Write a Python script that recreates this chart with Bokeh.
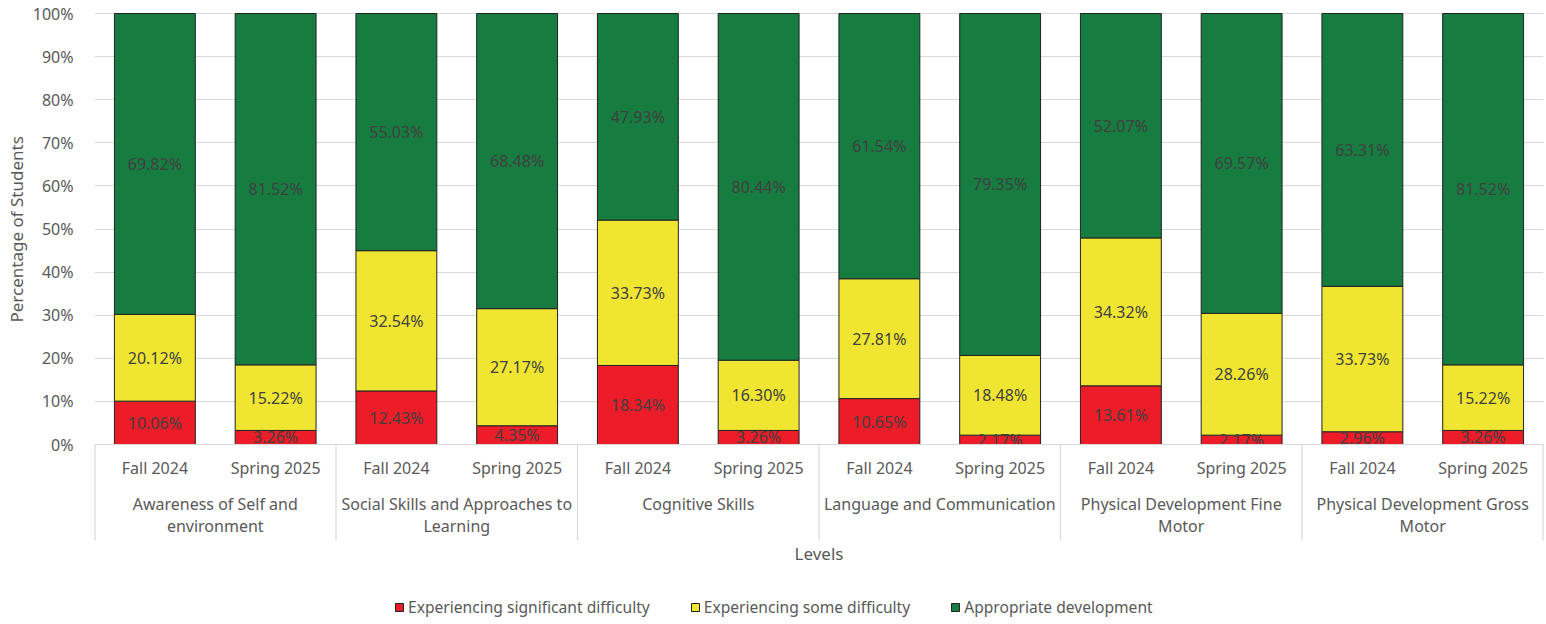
import numpy as np
from bokeh.plotting import figure
from bokeh.models import (ColumnDataSource, Range1d, FixedTicker, NumeralTickFormatter,
                          Legend, LegendItem, BoxAnnotation, Title)
from bokeh.embed import file_html
from bokeh.resources import INLINE
from bokeh.core.properties import value

# ---------------- data ----------------
group_line1 = ["Awareness of Self and", "Social Skills and Approaches to", "Cognitive Skills",
               "Language and Communication", "Physical Development Fine", "Physical Development Gross"]
group_line2 = ["environment", "Learning", "", "", "Motor", "Motor"]
periods = ["Fall 2024", "Spring 2025"]

significant = [10.06, 3.26, 12.43, 4.35, 18.34, 3.26, 10.65, 2.17, 13.61, 2.17, 2.96, 3.26]
some = [20.12, 15.22, 32.54, 27.17, 33.73, 16.30, 27.81, 18.48, 34.32, 28.26, 33.73, 15.22]
appropriate = [69.82, 81.52, 55.03, 68.48, 47.93, 80.44, 61.54, 79.35, 52.07, 69.57, 63.31, 81.52]

series_names = ["Experiencing significant difficulty", "Experiencing some difficulty",
                "Appropriate development"]
colors = ["#EC1C28", "#F0E632", "#167C40"]

y_ticks = [i / 10 for i in range(11)]

FONT = "Noto Sans"
AXIS_TXT = "#595959"
LBL_TXT = "#404040"
GRID = "#d9d9d9"

# ---------------- derived ----------------
n_groups = len(group_line1)
n_bars = n_groups * len(periods)
x = np.arange(n_bars) + 0.5
s1 = np.array(significant) / 100
s2 = np.array(some) / 100
s3 = np.array(appropriate) / 100

src = ColumnDataSource(dict(x=x, sig=s1, some=s2, app=s3))

PX = 431.0                      # pixels per 100 %
H = 620
TOP = 12
Y_TOP = 1.0 + 1 / PX
Y_BOTTOM = -(H - 444) / PX
LINE_BOTTOM = -(540 - 444) / PX

p = figure(width=1544, height=H, output_backend="svg", toolbar_location=None,
           x_range=Range1d(0, n_bars), y_range=Range1d(Y_BOTTOM, Y_TOP),
           x_axis_location=None, min_border_left=93, min_border_right=1,
           min_border_top=TOP, min_border_bottom=0)
p.outline_line_color = None
p.background_fill_color = "white"

# y axis
p.yaxis.ticker = FixedTicker(ticks=y_ticks)
p.yaxis.formatter = NumeralTickFormatter(format="0%")
p.yaxis.axis_line_color = None
p.yaxis.major_tick_line_color = None
p.yaxis.minor_tick_line_color = None
p.yaxis.major_label_standoff = 15
p.yaxis.major_label_text_font = FONT
p.yaxis.major_label_text_font_size = "16px"
p.yaxis.major_label_text_color = AXIS_TXT
p.ygrid.ticker = FixedTicker(ticks=y_ticks)
p.ygrid.grid_line_color = GRID
p.xgrid.visible = False

# y axis title
p.add_layout(Title(text="Percentage of Students", align="left", offset=(H - 322),
                   text_font=FONT, text_font_size="17px", text_font_style="normal",
                   text_color=AXIS_TXT, standoff=4), "left")

# stacked bars
renderers = p.vbar_stack(["sig", "some", "app"], x="x", width=0.67, source=src,
                         fill_color=colors, line_color="#222222", line_width=1)

# data labels
for col, lo, hi in [("sig", np.zeros(n_bars), s1), ("some", s1, s1 + s2), ("app", s1 + s2, s1 + s2 + s3)]:
    vals = src.data[col]
    ls = ColumnDataSource(dict(x=x, y=(lo + hi) / 2, t=["%.2f%%" % (v * 100) for v in vals]))
    p.text(x="x", y="y", text="t", source=ls, text_align="center", text_baseline="middle",
           text_font=value(FONT), text_font_size="16px", text_color=LBL_TXT)

# white box below the zero line (hides label overflow like the original)
p.add_layout(BoxAnnotation(top=0, fill_color="white", fill_alpha=1, line_color=None))

# category axis lines
sep_x = np.arange(0, n_bars + 1, 2)
sep_x = np.clip(sep_x, 0.004, n_bars - 0.004)
p.segment(x0=sep_x, y0=np.zeros(len(sep_x)), x1=sep_x, y1=np.full(len(sep_x), LINE_BOTTOM),
          line_color=GRID, line_width=1.2, level="overlay")
p.segment(x0=[0], y0=[0], x1=[n_bars], y1=[0], line_color=GRID, line_width=1.2, level="overlay")

# period labels
p.text(x=x, y=np.full(n_bars, -(467 - 444) / PX), text=periods * n_groups, text_align="center",
       text_baseline="middle", text_font=value(FONT), text_font_size="16px",
       text_color=AXIS_TXT, level="overlay")
gx = np.arange(n_groups) * 2 + 1.0
p.text(x=gx, y=np.full(n_groups, -(503 - 444) / PX), text=group_line1, text_align="center",
       text_baseline="middle", text_font=value(FONT), text_font_size="16px",
       text_color=AXIS_TXT, level="overlay")
p.text(x=gx, y=np.full(n_groups, -(525 - 444) / PX), text=group_line2, text_align="center",
       text_baseline="middle", text_font=value(FONT), text_font_size="16px",
       text_color=AXIS_TXT, level="overlay")

# x axis title
p.text(x=[n_bars / 2], y=[-(553 - 444) / PX], text=["Levels"], text_align="center",
       text_baseline="middle", text_font=value(FONT), text_font_size="17px",
       text_color=AXIS_TXT, level="overlay")

# legend
legend = Legend(items=[LegendItem(label=series_names[i], renderers=[renderers[i]]) for i in range(3)],
                orientation="horizontal", location=(300, 2), margin=0, padding=0,
                spacing=40, label_standoff=4, glyph_width=10, glyph_height=10,
                border_line_color=None, background_fill_alpha=0,
                label_text_font=FONT, label_text_font_size="15.6px", label_text_color=AXIS_TXT)
p.add_layout(legend)

open("out.html", "w").write(file_html(p, INLINE))
